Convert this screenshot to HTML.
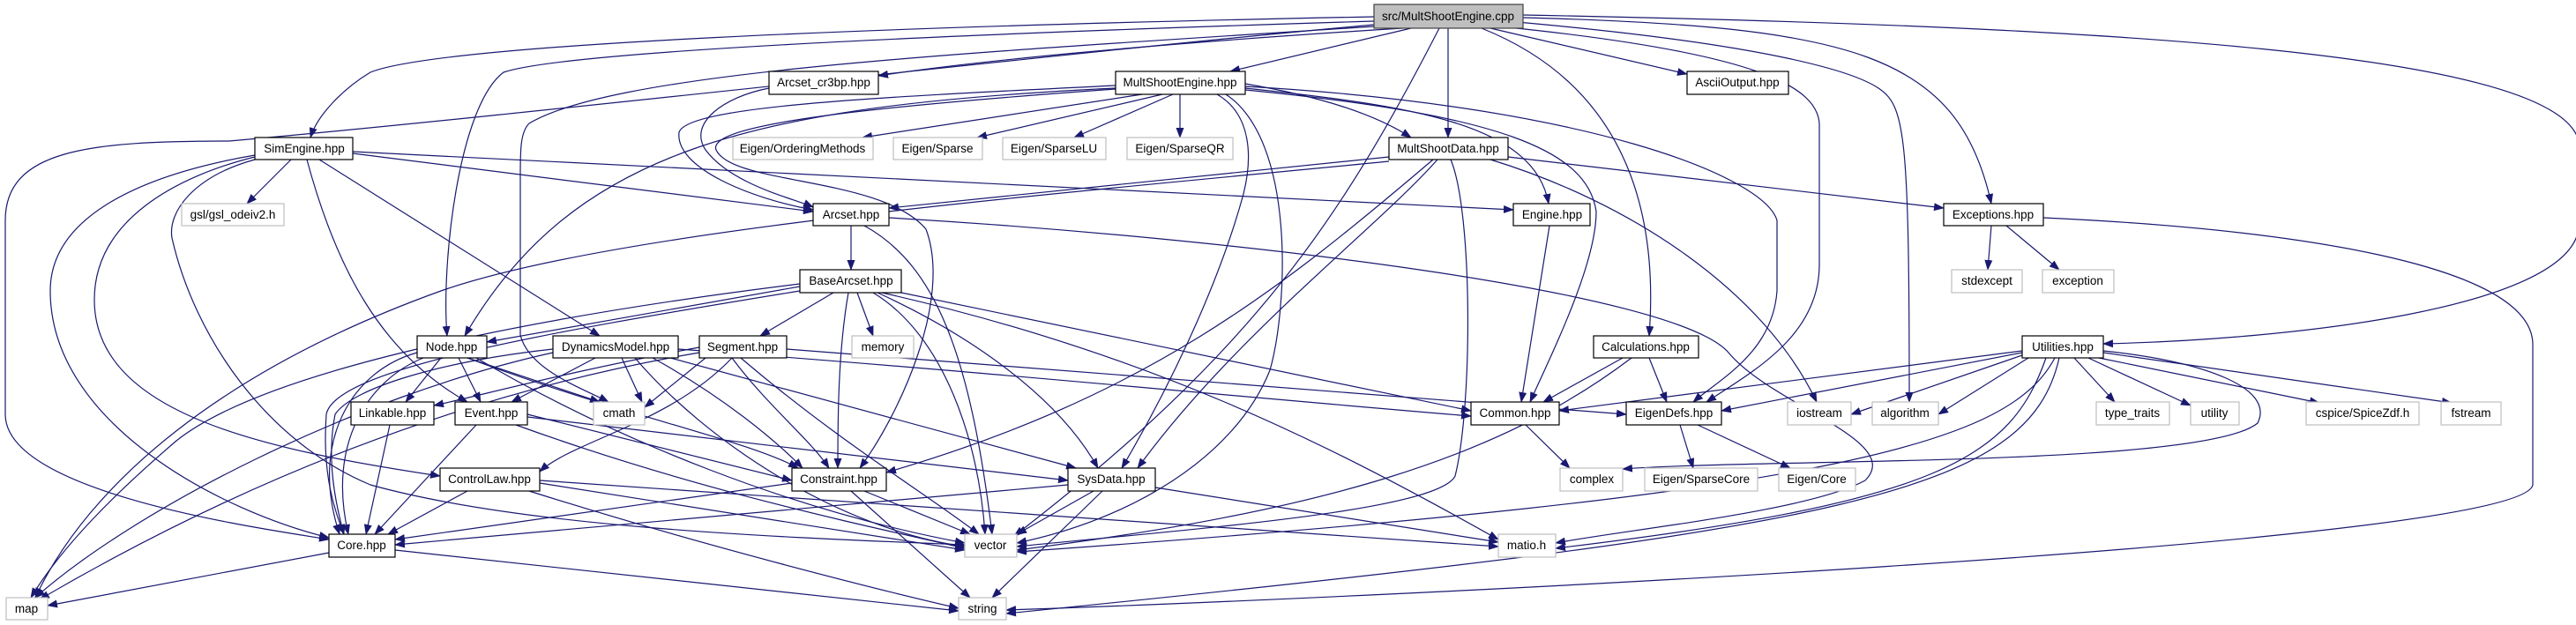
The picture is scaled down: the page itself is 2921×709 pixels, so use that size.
<!DOCTYPE html>
<html><head><meta charset="utf-8"><style>
html,body{margin:0;padding:0;background:#fff;}
svg{display:block;}
text{font-family:"Liberation Sans",sans-serif;font-size:13.5px;fill:#000;text-anchor:middle;}
.e{fill:none;stroke:#191970;stroke-width:1.2;marker-end:url(#a);}
.n{fill:#fff;stroke:#000;stroke-width:1.2;}
.g{fill:#fff;stroke:#bfbfbf;stroke-width:1.2;}
</style></head><body>
<svg width="2921" height="709" viewBox="0 0 2921 709" xmlns="http://www.w3.org/2000/svg">
<defs><marker id="a" markerUnits="userSpaceOnUse" markerWidth="12" markerHeight="9" refX="11" refY="4.5" orient="auto"><path d="M0,0 L12,4.5 L0,9 z" fill="#191970"/></marker></defs>
<g>
<path class="e" d="M1558,19 C1000,30 500,50 420,82 C390,100 360,130 352,156"/>
<path class="e" d="M1558,24 C1200,35 650,55 571,82 C520,120 500,300 507,381"/>
<path class="e" d="M1590,32 C1300,50 1100,70 996,86"/>
<path class="e" d="M1600,32 L1395,81"/>
<path class="e" d="M1642,32 L1642,156"/>
<path class="e" d="M1632,32 C1520,250 1420,400 1150,608"/>
<path class="e" d="M1680,32 C1850,100 1880,250 1870,381"/>
<path class="e" d="M1690,32 L1913,84"/>
<path class="e" d="M1700,30 C2000,60 2060,100 2063,140 L2063,300 C2063,380 1990,420 1935,456"/>
<path class="e" d="M1720,25 C2000,50 2100,80 2130,100 C2160,120 2165,150 2165,456"/>
<path class="e" d="M1727,20 C2100,30 2220,60 2258,231"/>
<path class="e" d="M1727,17 C2400,30 2900,60 2924,160 L2924,260 C2910,350 2600,385 2385,390"/>
<path class="e" d="M1558,28 C1200,60 600,130 260,160 C100,160 6,170 6,250 L6,470 C6,560 300,600 373,612"/>
<path class="e" d="M1558,30 C1100,60 700,80 600,140 C590,150 590,170 590,200 L590,380 C600,420 660,440 690,456"/>
<path class="e" d="M1295,107 L978,156"/>
<path class="e" d="M1318,107 L1108,156"/>
<path class="e" d="M1330,107 L1218,156"/>
<path class="e" d="M1338,107 L1338,156"/>
<path class="e" d="M1265,97 C1000,110 780,120 770,150 C765,190 850,225 922,238"/>
<path class="e" d="M1265,100 C850,120 650,170 527,381"/>
<path class="e" d="M1265,101 C1000,120 800,140 812,170 C830,210 1000,200 1050,260 C1080,340 1020,470 975,531"/>
<path class="e" d="M1412,95 C1500,110 1560,130 1600,156"/>
<path class="e" d="M1412,100 C1600,120 1740,140 1756,231"/>
<path class="e" d="M1412,102 C1700,130 1800,170 1810,240 C1810,300 1760,400 1735,456"/>
<path class="e" d="M1412,98 C1800,120 2000,200 2015,250 L2015,330 C2010,400 1950,430 1920,456"/>
<path class="e" d="M1380,107 C1420,130 1420,180 1410,220 C1380,330 1320,450 1272,531"/>
<path class="e" d="M1390,107 C1470,160 1460,350 1440,420 C1400,520 1280,590 1153,616"/>
<path class="e" d="M1575,178 L1008,236"/>
<path class="e" d="M1575,183 C1200,220 700,260 500,330 C250,420 100,550 40,678"/>
<path class="e" d="M1710,178 L2204,236"/>
<path class="e" d="M1690,181 C1850,230 2000,330 2060,456"/>
<path class="e" d="M1630,181 C1560,260 1400,380 1290,531"/>
<path class="e" d="M1625,181 C1450,330 1300,450 1005,536"/>
<path class="e" d="M1645,181 C1670,240 1670,460 1650,540 C1630,580 1350,600 1153,620"/>
<path class="e" d="M330,181 L280,231"/>
<path class="e" d="M348,181 C380,300 430,400 530,456"/>
<path class="e" d="M362,181 L680,381"/>
<path class="e" d="M400,174 L922,240"/>
<path class="e" d="M400,172 L1716,238"/>
<path class="e" d="M289,176 C150,200 57,250 57,330 C57,480 250,580 373,610"/>
<path class="e" d="M289,178 C200,200 107,250 107,340 C107,470 300,510 499,540"/>
<path class="e" d="M289,181 C220,200 190,240 195,270 C220,380 300,500 420,550 C600,600 900,610 1094,618"/>
<path class="e" d="M872,100 C820,110 780,140 800,170 C830,210 900,225 922,235"/>
<path class="e" d="M965,256 L965,306"/>
<path class="e" d="M980,256 C1060,300 1100,400 1125,606"/>
<path class="e" d="M1008,247 C1400,270 1900,330 1960,400 C2010,460 2160,500 2115,545 C2050,580 1850,600 1764,616"/>
<path class="e" d="M945,332 L862,381"/>
<path class="e" d="M972,332 L990,381"/>
<path class="e" d="M962,332 C950,400 950,480 950,531"/>
<path class="e" d="M990,332 C1070,380 1110,500 1117,606"/>
<path class="e" d="M995,332 C1100,380 1200,450 1245,531"/>
<path class="e" d="M1022,332 L1668,466"/>
<path class="e" d="M1000,332 C1300,400 1500,500 1699,612"/>
<path class="e" d="M907,325 L552,388"/>
<path class="e" d="M907,322 C600,360 300,420 200,500 C130,560 70,620 35,678"/>
<path class="e" d="M907,330 C600,380 380,420 370,470 C365,540 380,580 390,606"/>
<path class="e" d="M500,406 L460,456"/>
<path class="e" d="M520,406 L545,456"/>
<path class="e" d="M530,406 L680,456"/>
<path class="e" d="M530,406 C700,470 850,500 905,531"/>
<path class="e" d="M540,406 C700,500 900,580 1094,616"/>
<path class="e" d="M473,400 C400,420 350,500 385,606"/>
<path class="e" d="M480,406 C420,430 370,500 395,606"/>
<path class="e" d="M675,406 L580,456"/>
<path class="e" d="M705,406 L728,456"/>
<path class="e" d="M740,406 C820,450 880,500 910,531"/>
<path class="e" d="M760,406 L1220,531"/>
<path class="e" d="M769,396 C1100,420 1400,450 1668,472"/>
<path class="e" d="M720,406 C800,500 950,600 1094,620"/>
<path class="e" d="M627,400 C400,450 150,580 40,678"/>
<path class="e" d="M627,396 C500,410 400,440 380,470 C370,520 380,570 390,606"/>
<path class="e" d="M800,406 L731,462"/>
<path class="e" d="M793,394 C650,420 540,450 492,460"/>
<path class="e" d="M892,396 L1844,470"/>
<path class="e" d="M830,406 C870,460 920,500 940,531"/>
<path class="e" d="M840,406 C950,500 1050,560 1110,606"/>
<path class="e" d="M830,406 C760,480 650,500 612,535"/>
<path class="e" d="M793,400 C500,450 250,560 45,680"/>
<path class="e" d="M442,482 L415,606"/>
<path class="e" d="M540,482 L425,606"/>
<path class="e" d="M598,470 L898,545"/>
<path class="e" d="M598,473 L1211,545"/>
<path class="e" d="M585,482 C800,560 1000,600 1094,622"/>
<path class="e" d="M530,557 L440,606"/>
<path class="e" d="M612,548 L1094,624"/>
<path class="e" d="M600,557 C800,620 1000,670 1087,690"/>
<path class="e" d="M612,545 L1699,620"/>
<path class="e" d="M373,627 L54,687"/>
<path class="e" d="M448,624 L1087,693"/>
<path class="e" d="M898,548 L448,612"/>
<path class="e" d="M980,557 L1100,606"/>
<path class="e" d="M965,557 L1100,678"/>
<path class="e" d="M1211,550 L448,618"/>
<path class="e" d="M1240,557 L1153,606"/>
<path class="e" d="M1250,557 L1125,678"/>
<path class="e" d="M1310,553 L1699,615"/>
<path class="e" d="M1757,256 L1725,456"/>
<path class="e" d="M1840,406 L1750,456"/>
<path class="e" d="M1870,406 L1890,456"/>
<path class="e" d="M1850,406 C1700,520 1500,580 1153,624"/>
<path class="e" d="M1730,482 L1780,531"/>
<path class="e" d="M1905,482 L1920,531"/>
<path class="e" d="M1925,482 L2030,531"/>
<path class="e" d="M2258,256 L2254,306"/>
<path class="e" d="M2275,256 L2335,306"/>
<path class="e" d="M2317,247 C2600,260 2870,300 2872,390 L2872,550 C2860,620 1500,680 1141,692"/>
<path class="e" d="M2352,406 L2398,456"/>
<path class="e" d="M2368,406 L2484,460"/>
<path class="e" d="M2380,406 L2630,457"/>
<path class="e" d="M2385,400 L2780,457"/>
<path class="e" d="M2300,406 L2198,470"/>
<path class="e" d="M2293,403 L2099,470"/>
<path class="e" d="M2293,400 L1952,466"/>
<path class="e" d="M2293,398 L1768,466"/>
<path class="e" d="M2385,398 C2500,410 2580,440 2560,480 C2500,530 2000,520 1840,532"/>
<path class="e" d="M2330,406 C2280,500 2100,560 1153,626"/>
<path class="e" d="M2320,406 C2280,520 2200,570 1764,622"/>
<path class="e" d="M2335,406 C2300,560 2100,600 1141,696"/>
</g>
<g>
<rect x="1558" y="5" width="169" height="27" fill="#bfbfbf" stroke="#404040" stroke-width="1.2"/><text x="1642" y="23">src/MultShootEngine.cpp</text>
<rect class="n" x="289" y="156" width="111" height="25"/><text x="345" y="173">SimEngine.hpp</text>
<rect class="g" x="206" y="231" width="116" height="25"/><text x="264" y="248">gsl/gsl_odeiv2.h</text>
<rect class="n" x="473" y="381" width="79" height="25"/><text x="512" y="398">Node.hpp</text>
<rect class="n" x="627" y="381" width="142" height="25"/><text x="698" y="398">DynamicsModel.hpp</text>
<rect class="n" x="398" y="456" width="94" height="26"/><text x="445" y="473">Linkable.hpp</text>
<rect class="n" x="516" y="456" width="82" height="26"/><text x="557" y="473">Event.hpp</text>
<rect class="g" x="673" y="456" width="58" height="26"/><text x="702" y="473">cmath</text>
<rect class="n" x="499" y="531" width="113" height="26"/><text x="555" y="548">ControlLaw.hpp</text>
<rect class="n" x="373" y="606" width="75" height="26"/><text x="410" y="623">Core.hpp</text>
<rect class="g" x="7" y="678" width="47" height="25"/><text x="30" y="695">map</text>
<rect class="n" x="872" y="81" width="124" height="26"/><text x="934" y="98">Arcset_cr3bp.hpp</text>
<rect class="n" x="1265" y="81" width="147" height="26"/><text x="1338" y="98">MultShootEngine.hpp</text>
<rect class="g" x="831" y="156" width="159" height="25"/><text x="910" y="173">Eigen/OrderingMethods</text>
<rect class="g" x="1013" y="156" width="101" height="25"/><text x="1063" y="173">Eigen/Sparse</text>
<rect class="g" x="1137" y="156" width="117" height="25"/><text x="1195" y="173">Eigen/SparseLU</text>
<rect class="g" x="1278" y="156" width="120" height="25"/><text x="1338" y="173">Eigen/SparseQR</text>
<rect class="n" x="922" y="231" width="86" height="25"/><text x="965" y="248">Arcset.hpp</text>
<rect class="n" x="907" y="306" width="115" height="26"/><text x="965" y="323">BaseArcset.hpp</text>
<rect class="n" x="793" y="381" width="99" height="25"/><text x="842" y="398">Segment.hpp</text>
<rect class="g" x="966" y="381" width="70" height="25"/><text x="1001" y="398">memory</text>
<rect class="n" x="898" y="531" width="107" height="26"/><text x="951" y="548">Constraint.hpp</text>
<rect class="n" x="1211" y="531" width="99" height="26"/><text x="1260" y="548">SysData.hpp</text>
<rect class="g" x="1094" y="606" width="59" height="26"/><text x="1123" y="623">vector</text>
<rect class="g" x="1087" y="678" width="54" height="25"/><text x="1114" y="695">string</text>
<rect class="n" x="1575" y="156" width="135" height="25"/><text x="1642" y="173">MultShootData.hpp</text>
<rect class="n" x="1716" y="231" width="87" height="25"/><text x="1760" y="248">Engine.hpp</text>
<rect class="n" x="1913" y="81" width="115" height="26"/><text x="1970" y="98">AsciiOutput.hpp</text>
<rect class="n" x="1807" y="381" width="119" height="25"/><text x="1866" y="398">Calculations.hpp</text>
<rect class="n" x="1668" y="456" width="100" height="26"/><text x="1718" y="473">Common.hpp</text>
<rect class="n" x="1844" y="456" width="108" height="26"/><text x="1898" y="473">EigenDefs.hpp</text>
<rect class="g" x="2027" y="456" width="72" height="26"/><text x="2063" y="473">iostream</text>
<rect class="g" x="2123" y="456" width="75" height="26"/><text x="2160" y="473">algorithm</text>
<rect class="g" x="1769" y="531" width="71" height="26"/><text x="1805" y="548">complex</text>
<rect class="g" x="1865" y="531" width="128" height="26"/><text x="1929" y="548">Eigen/SparseCore</text>
<rect class="g" x="2017" y="531" width="87" height="26"/><text x="2060" y="548">Eigen/Core</text>
<rect class="g" x="1699" y="606" width="65" height="26"/><text x="1731" y="623">matio.h</text>
<rect class="n" x="2204" y="231" width="113" height="25"/><text x="2260" y="248">Exceptions.hpp</text>
<rect class="g" x="2213" y="306" width="80" height="26"/><text x="2253" y="323">stdexcept</text>
<rect class="g" x="2316" y="306" width="81" height="26"/><text x="2356" y="323">exception</text>
<rect class="n" x="2293" y="381" width="92" height="25"/><text x="2339" y="398">Utilities.hpp</text>
<rect class="g" x="2377" y="456" width="83" height="26"/><text x="2418" y="473">type_traits</text>
<rect class="g" x="2484" y="456" width="55" height="26"/><text x="2511" y="473">utility</text>
<rect class="g" x="2615" y="456" width="128" height="26"/><text x="2679" y="473">cspice/SpiceZdf.h</text>
<rect class="g" x="2768" y="456" width="68" height="26"/><text x="2802" y="473">fstream</text>
</g>
</svg>
</body></html>
